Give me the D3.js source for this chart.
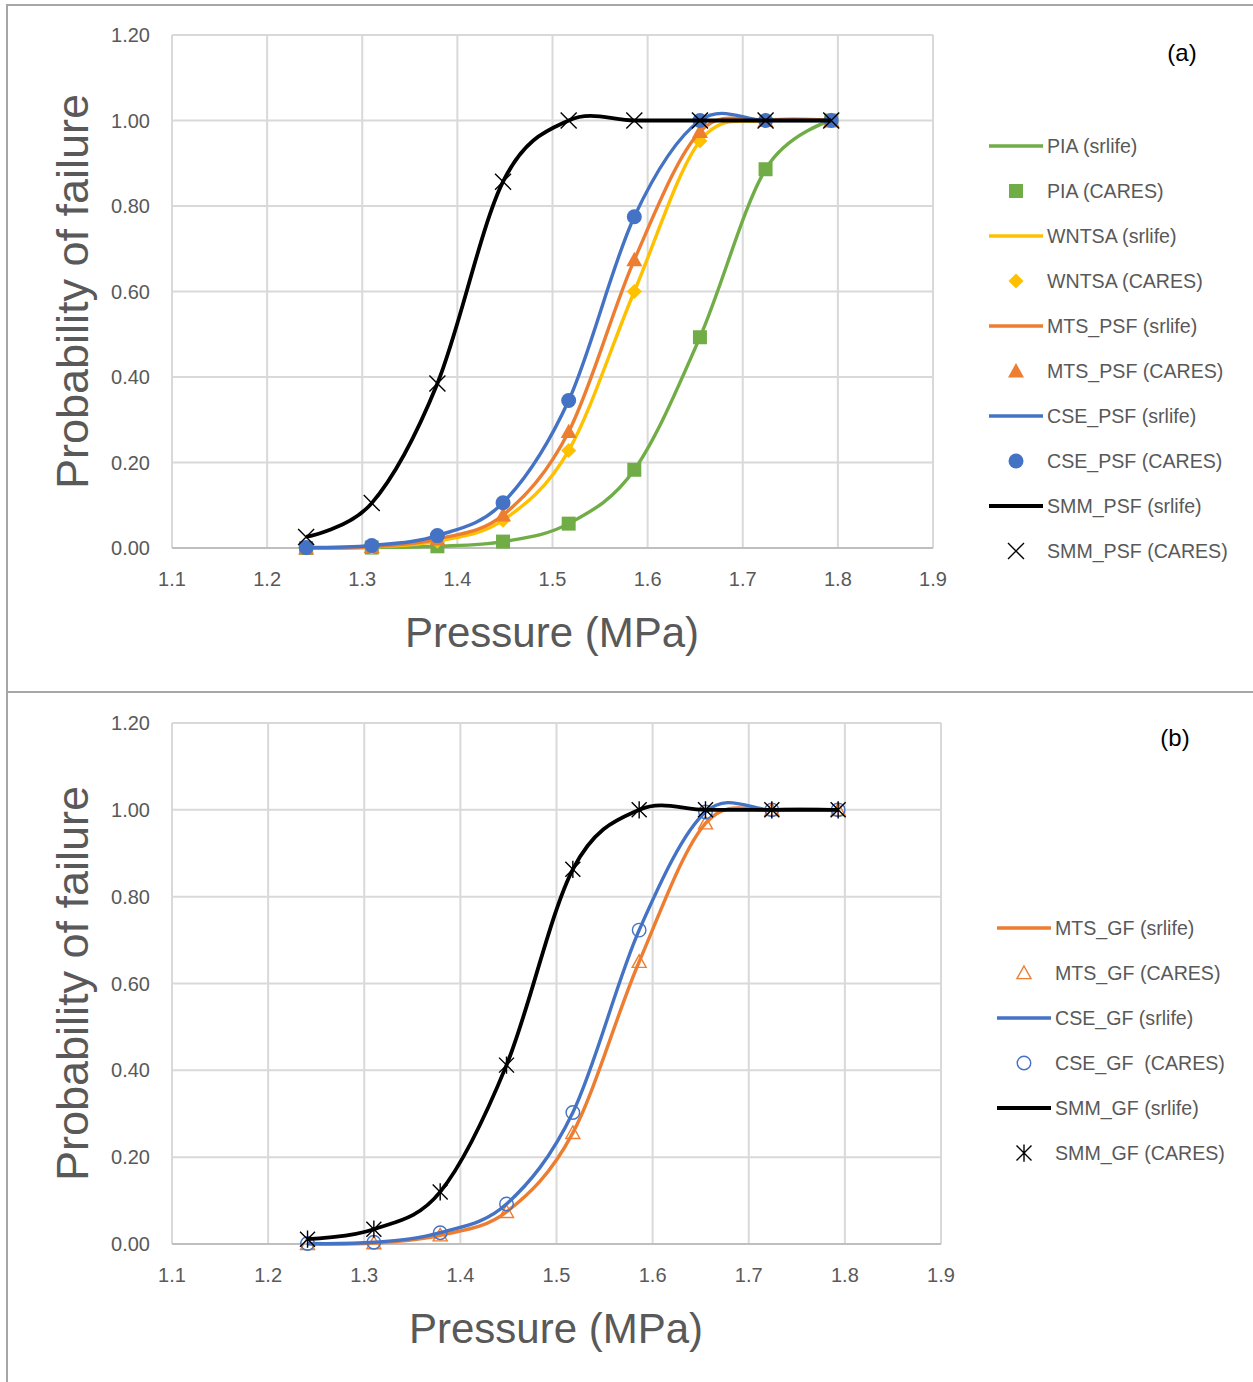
<!DOCTYPE html>
<html>
<head>
<meta charset="utf-8">
<script src="https://cdn.jsdelivr.net/npm/d3@7/dist/d3.min.js"></script>
<style>
  body { margin: 0; background: #fff; }
  text { font-family: "Liberation Sans", Arial, sans-serif; }
</style>
</head>
<body>
<div id="chart"></div>
<script>
// pressure steps (MPa) shared by both panels
var pressure = [1.241, 1.310, 1.379, 1.448, 1.517, 1.586, 1.655, 1.724, 1.793];
var xTicks = [1.1, 1.2, 1.3, 1.4, 1.5, 1.6, 1.7, 1.8, 1.9];
var yTicks = [0, 0.2, 0.4, 0.6, 0.8, 1.0, 1.2];

// panel (a) - probability of failure, PSF models
var piaPsf   = [0.000, 0.001, 0.004, 0.015, 0.057, 0.183, 0.493, 0.886, 1.000];
var wntsaPsf = [0.000, 0.002, 0.016, 0.065, 0.228, 0.600, 0.952, 1.000, 1.000];
var mtsPsf   = [0.000, 0.003, 0.021, 0.077, 0.272, 0.674, 0.974, 1.000, 1.000];
var csePsf   = [0.001, 0.006, 0.029, 0.106, 0.345, 0.775, 1.000, 1.000, 1.000];
var smmPsf   = [0.026, 0.105, 0.385, 0.857, 1.000, 1.000, 1.000, 1.000, 1.000];

// panel (b) - GF models
var mtsGf = [0.000, 0.002, 0.020, 0.074, 0.256, 0.650, 0.969, 1.000, 1.000];
var cseGf = [0.001, 0.004, 0.026, 0.092, 0.303, 0.723, 0.995, 1.000, 1.000];
var smmGf = [0.011, 0.034, 0.120, 0.412, 0.863, 1.000, 1.000, 1.000, 1.000];

var svg = d3.select("#chart").append("svg")
  .attr("width", 1253)
  .attr("height", 1382);

// outer frames
svg.append("rect").attr("x", 7).attr("y", 5).attr("width", 1260).attr("height", 687)
  .attr("fill", "none").attr("stroke", "#a6a6a6").attr("stroke-width", 2);
svg.append("rect").attr("x", 7).attr("y", 692).attr("width", 1260).attr("height", 700)
  .attr("fill", "none").attr("stroke", "#a6a6a6").attr("stroke-width", 2);

// marker shapes
function markerPath(kind, s) {
  var h = s / 2;
  if (kind == "square") return d3.symbol(d3.symbolSquare, s * s)();
  if (kind == "circle") return d3.symbol(d3.symbolCircle, Math.PI * h * h)();
  if (kind == "triangle") return "M0," + (-h) + "L" + h + "," + (h * 0.8) + "L" + (-h) + "," + (h * 0.8) + "Z";
  if (kind == "diamond") return "M0," + (-h) + "L" + h + ",0L0," + h + "L" + (-h) + ",0Z";
  if (kind == "x") return "M" + (-h) + "," + (-h) + "L" + h + "," + h + "M" + (-h) + "," + h + "L" + h + "," + (-h);
  if (kind == "star") return "M" + (-h) + "," + (-h) + "L" + h + "," + h + "M" + (-h) + "," + h + "L" + h + "," + (-h) +
    "M0," + (-h * 1.15) + "L0," + (h * 1.15);
  return "";
}

function drawMarker(g, kind, color, hollow, size) {
  var p = g.append("path").attr("d", markerPath(kind, size));
  if (kind == "x" || kind == "star") {
    p.attr("fill", "none").attr("stroke", color).attr("stroke-width", 1.4);
  } else if (hollow) {
    p.attr("fill", "none").attr("stroke", color).attr("stroke-width", 1.4);
  } else {
    p.attr("fill", color);
  }
}

function drawPanel(cfg) {
  var x = d3.scaleLinear().domain([1.1, 1.9]).range([cfg.left, cfg.right]);
  var y = d3.scaleLinear().domain([0, 1.2]).range([cfg.bottom, cfg.top]);
  var g = svg.append("g");

  // gridlines
  g.append("g").selectAll("line").data(xTicks).enter().append("line")
    .attr("x1", d => x(d)).attr("x2", d => x(d))
    .attr("y1", y(1.2)).attr("y2", y(0))
    .attr("stroke", "#d9d9d9").attr("stroke-width", 2);
  g.append("g").selectAll("line").data(yTicks.slice(1)).enter().append("line")
    .attr("x1", x(1.1)).attr("x2", x(1.9))
    .attr("y1", d => y(d)).attr("y2", d => y(d))
    .attr("stroke", "#d9d9d9").attr("stroke-width", 2);
  g.append("line")
    .attr("x1", x(1.1)).attr("x2", x(1.9))
    .attr("y1", y(0)).attr("y2", y(0))
    .attr("stroke", "#bfbfbf").attr("stroke-width", 2);

  // tick labels
  g.append("g").selectAll("text").data(yTicks).enter().append("text")
    .attr("x", cfg.left - 22).attr("y", d => y(d)).attr("dy", "0.35em")
    .attr("text-anchor", "end").attr("font-size", 20).attr("fill", "#595959")
    .text(d => d.toFixed(2));
  g.append("g").selectAll("text").data(xTicks).enter().append("text")
    .attr("x", d => x(d)).attr("y", y(0) + 31).attr("dy", "0.35em")
    .attr("text-anchor", "middle").attr("font-size", 20).attr("fill", "#595959")
    .text(d => d.toFixed(1));

  // axis titles
  g.append("text")
    .attr("transform", "translate(" + cfg.yTitleX + "," + ((cfg.top + cfg.bottom) / 2) + ") rotate(-90)")
    .attr("dy", "0.35em")
    .attr("text-anchor", "middle").attr("font-size", 45).attr("fill", "#595959")
    .text("Probability of failure");
  g.append("text")
    .attr("x", cfg.xTitleX).attr("y", cfg.xTitleY).attr("dy", "0.35em")
    .attr("text-anchor", "middle").attr("font-size", 42).attr("fill", "#595959")
    .text("Pressure (MPa)");

  // panel tag
  g.append("text")
    .attr("x", cfg.tagX).attr("y", cfg.tagY).attr("dy", "0.35em")
    .attr("text-anchor", "middle").attr("font-size", 24).attr("fill", "#000")
    .text(cfg.tag);

  var line = d3.line()
    .x(d => x(d[0]))
    .y(d => y(d[1]))
    .curve(d3.curveCardinal.tension(0));

  // series: srlife line, then CARES markers on top
  cfg.series.forEach(function(s) {
    var pts = pressure.map((p, i) => [p, s.values[i]]);
    g.append("path")
      .datum(pts)
      .attr("fill", "none")
      .attr("stroke", s.color)
      .attr("stroke-width", s.width || 3.4)
      .attr("d", line);
    pts.forEach(function(d) {
      var m = g.append("g").attr("transform", "translate(" + x(d[0]) + "," + y(d[1]) + ")");
      drawMarker(m, s.marker, s.markerColor || s.color, s.hollow, s.size);
    });
  });

  // legend
  var lg = g.append("g");
  cfg.series.forEach(function(s, i) {
    var ly = cfg.legendY + i * 90;
    lg.append("line")
      .attr("x1", cfg.legendX).attr("x2", cfg.legendX + 54)
      .attr("y1", ly).attr("y2", ly)
      .attr("stroke", s.color).attr("stroke-width", s.width || 3.4);
    lg.append("text")
      .attr("x", cfg.legendX + 58).attr("y", ly).attr("dy", "0.35em")
      .attr("font-size", 19.6).attr("fill", "#595959")
      .text(s.name + " (srlife)");
    var m = lg.append("g").attr("transform", "translate(" + (cfg.legendX + 27) + "," + (ly + 45) + ")");
    drawMarker(m, s.marker, s.markerColor || s.color, s.hollow, s.size);
    lg.append("text")
      .attr("x", cfg.legendX + 58).attr("y", ly + 45).attr("dy", "0.35em")
      .attr("font-size", 19.6).attr("fill", "#595959")
      .text(s.caresName || (s.name + " (CARES)"));
  });
}

drawPanel({
  left: 172, right: 933, top: 35, bottom: 548,
  yTitleX: 72, xTitleX: 552, xTitleY: 632,
  tag: "(a)", tagX: 1182, tagY: 53,
  legendX: 989, legendY: 146,
  series: [
    { name: "PIA", values: piaPsf, color: "#70ad47", marker: "square", size: 14 },
    { name: "WNTSA", values: wntsaPsf, color: "#ffc000", marker: "diamond", size: 15 },
    { name: "MTS_PSF", values: mtsPsf, color: "#ed7d31", marker: "triangle", size: 16 },
    { name: "CSE_PSF", values: csePsf, color: "#4472c4", marker: "circle", size: 15 },
    { name: "SMM_PSF", values: smmPsf, color: "#000000", marker: "x", size: 16, width: 3.8 }
  ]
});

drawPanel({
  left: 172, right: 941, top: 723, bottom: 1244,
  yTitleX: 72, xTitleX: 556, xTitleY: 1328,
  tag: "(b)", tagX: 1175, tagY: 738,
  legendX: 997, legendY: 928,
  series: [
    { name: "MTS_GF", values: mtsGf, color: "#ed7d31", marker: "triangle", hollow: true, size: 14 },
    { name: "CSE_GF", values: cseGf, color: "#4472c4", marker: "circle", hollow: true, size: 13.5, caresName: "CSE_GF\u00a0 (CARES)" },
    { name: "SMM_GF", values: smmGf, color: "#000000", marker: "star", size: 15, width: 3.8 }
  ]
});
</script>
</body>
</html>
